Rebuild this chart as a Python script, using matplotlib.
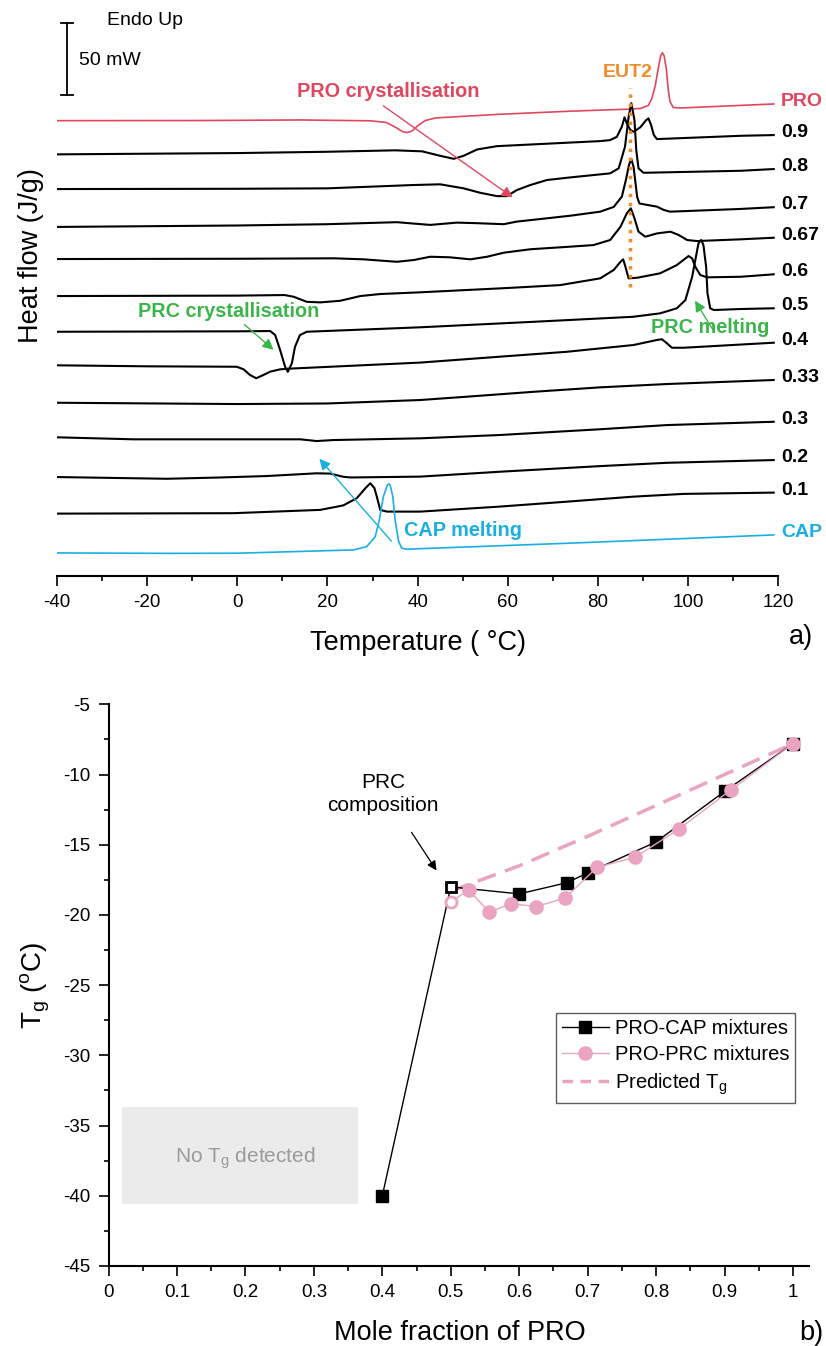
import matplotlib
matplotlib.use("Agg")
import matplotlib.pyplot as plt
from matplotlib.patches import Rectangle
from matplotlib.lines import Line2D
from matplotlib.ticker import MultipleLocator, FuncFormatter

plt.rcParams["font.family"] = ["Liberation Sans", "DejaVu Sans"]
plt.rcParams["mathtext.fontset"] = "custom"
plt.rcParams["mathtext.rm"] = "Liberation Sans"
plt.rcParams["mathtext.it"] = "Liberation Sans:italic"
plt.rcParams["mathtext.bf"] = "Liberation Sans:bold"
plt.rcParams["mathtext.default"] = "regular"
plt.rcParams["axes.unicode_minus"] = False

RED = "#e0475f"
GREEN = "#3bb54a"
CYAN = "#1aafe3"
ORANGE = "#f28c28"
PINK = "#eaa3c1"

# ---------------- (a) DSC heating traces: temperature (degC) / heat flow (mW) ----------------
t_pro = [-40, -8, 14, 29.5, 33, 35, 36.6, 37.7, 38.8, 40, 41.7, 44, 58, 74, 86, 89.5, 91.2, 92,
         92.7, 93.4, 93.9, 94.3, 94.7, 95.2, 95.6, 96, 96.7, 98.3, 111.6, 119]
hf_pro = [0, 0.1, 0.5, -0.1, -1.2, -4.4, -7.5, -8.3, -7.1, -3.6, 0.1, 1.9, 4.4, 6.6, 7.9, 8.5, 10.6,
          15.8, 24.1, 36.6, 44.9, 47.2, 44.9, 35.2, 21.3, 13.0, 9.2, 8.8, 10.6, 11.6]

t_090 = [-40, 0, 20, 35, 41, 45, 48, 50.2, 53.2, 57.6, 73.9, 80.5, 82.7, 84.2, 85.3, 85.9, 86.4,
         87.2, 87.9, 89.4, 90.7, 91.2, 91.8, 92.4, 93.1, 111.7, 119]
hf_090 = [0, 0.9, 1.8, 2.8, 2.1, -1.0, -3.1, -1.0, 3.4, 5.7, 8.2, 9.2, 9.9, 12.2, 19.2, 25.7, 21.5,
          16.9, 15.7, 18.8, 23.8, 25.0, 20.3, 13.4, 10.6, 12.9, 13.4]

t_080 = [-40, 0, 20, 39, 45, 50.2, 53.9, 57.6, 59.8, 62, 65, 68.7, 73.9, 82.7, 84.6, 86, 86.8,
         87.4, 88.1, 88.5, 89, 90.1, 111.7, 119]
hf_080 = [0, 0.2, 0.5, 2.8, 3.3, 0.5, -2.6, -4.9, -4.9, -0.7, 2.8, 6.3, 8.1, 10.9, 14.4, 29.4, 50.0,
          59.7, 47.9, 27.1, 14.4, 11.3, 12.7, 13.9]

t_070 = [-40, 0, 20, 35.4, 42.8, 48.7, 53.2, 59.1, 62, 68.7, 73.9, 80.5, 83.5, 85.3, 86.2, 86.9,
         87.4, 87.9, 88.3, 88.7, 89.2, 90.9, 93.1, 94.6, 96, 111.7, 119]
hf_070 = [0, 1.0, 1.9, 3.3, 1.4, 3.0, 2.6, 1.9, 3.7, 6.0, 7.8, 10.6, 13.9, 21.0, 32.6, 43.1, 47.2,
          41.7, 31.3, 20.8, 16.3, 15.3, 14.1, 11.8, 10.6, 12.5, 13.7]

t_067 = [-40, 0, 21.5, 28, 35.4, 39.1, 42.8, 47.2, 51.7, 55.4, 59.1, 65, 73.9, 79, 82.7, 85, 86.4,
         87.3, 88.1, 89, 90.5, 93.1, 96.1, 97.9, 99.8, 102, 111.7, 119]
hf_067 = [0, 0.2, 0.5, -0.2, -1.9, -0.7, 1.6, 1.2, -0.2, 1.6, 4.4, 6.8, 8.6, 9.7, 13.2, 22.4, 31.7,
          35.2, 28.3, 19.0, 15.5, 17.8, 19.0, 16.7, 13.2, 12.5, 13.7, 14.8]

t_060 = [-40, 0, 10.5, 12.5, 15.4, 18.4, 22.8, 27.3, 31.7, 40.6, 60, 71.6, 80.5, 83.5, 85, 85.6,
         86.1, 86.8, 88.7, 93.8, 97.5, 100.1, 100.9, 101.6, 102.7, 104.2, 111.7, 119]
hf_060 = [0, 0.3, 0.7, -0.5, -4.0, -4.4, -3.3, 0, 1.4, 2.6, 5.6, 7.6, 12.3, 18.1, 23.8, 25.5, 20.3,
          12.3, 12.7, 15.8, 21.5, 27.8, 26.1, 20.3, 14.6, 13.0, 13.4, 15.1]

t_050 = [-40, 0, 7.3, 8.4, 9.5, 10.6, 11.2, 12.1, 12.8, 13.9, 15.4, 40.6, 65.6, 87.8, 93.8, 97.5,
         99.4, 100.9, 101.6, 102.3, 102.9, 103.4, 104, 104.3, 104.9, 105.7, 111.7, 119]
hf_050 = [0, 0.3, 0.5, -2.3, -12.7, -24.3, -27.8, -21.9, -10.4, -2.3, 0, 3.1, 6.9, 10.4, 12.8, 16.3,
          22.0, 38.2, 49.8, 61.4, 63.7, 60.2, 45.1, 26.7, 16.3, 15.1, 15.8, 16.3]

t_040 = [-40, -20, -0.1, 1.4, 2.8, 4.2, 5.8, 7.3, 9.5, 11, 40.6, 58.3, 73.1, 87.9, 93.1, 94.2, 95.3,
         96.4, 99, 119]
hf_040 = [0, -0.7, -1.0, -2.8, -6.7, -9.0, -6.7, -4.4, -2.8, -2.4, 1.9, 6.0, 9.4, 14.1, 17.6, 18.1,
          15.3, 12.2, 12.2, 15.7]

t_033 = [-40, 0, 20, 40.6, 50.9, 65.7, 80.5, 95.3, 119]
hf_033 = [0, -0.9, -0.5, 1.9, 4.2, 7.6, 10.7, 13.0, 15.8]

t_030 = [-40, -23, 14, 17.6, 21.3, 40.6, 58.3, 80.5, 95.3, 119]
hf_030 = [0, -1.4, -1.4, -2.6, -1.9, -0.7, 1.6, 5.6, 8.5, 10.8]

t_020 = [-40, -15.6, -3.8, 6.5, 17.6, 20.6, 23.5, 25.1, 40.6, 58.3, 80.5, 95.3, 119]
hf_020 = [0, -1.2, -0.3, 0.7, 2.6, 2.4, 0.2, -0.3, 0.3, 3.7, 7.6, 9.9, 11.8]

t_010 = [-40, -0.9, 18.4, 23.5, 26.5, 28.4, 29.5, 30.4, 30.9, 31.7, 33.2, 40.6, 58.3, 73.1, 87.9,
         99, 119]
hf_010 = [0, 0.3, 2.6, 5.7, 10.7, 17.6, 21.1, 17.8, 12.3, 2.6, 1.4, 1.4, 4.9, 8.3, 11.8, 13.7, 14.6]

t_cap = [-40, -15, 0, 25.8, 28.7, 30.6, 31.5, 32.4, 33.3, 33.6, 33.9, 34.5, 35, 35.8, 36.5, 37.6,
         43.5, 73.1, 119]
hf_cap = [0, -0.3, -0.2, 2.1, 4.4, 11.3, 22.9, 39.1, 47.2, 47.9, 47.2, 39.1, 22.9, 7.8, 3.3, 2.6,
          3.3, 6.7, 12.5]

trace_labels = ["PRO", "0.9", "0.8", "0.7", "0.67", "0.6", "0.5", "0.4", "0.33", "0.3", "0.2",
                "0.1", "CAP"]
trace_offsets = [316.0, 292.6, 268.5, 242.2, 219.9, 194.2, 169.4, 146.1, 120.1, 96.1, 68.5, 43.1,
                 15.8]
traces = [(t_pro, hf_pro), (t_090, hf_090), (t_080, hf_080), (t_070, hf_070), (t_067, hf_067),
          (t_060, hf_060), (t_050, hf_050), (t_040, hf_040), (t_033, hf_033), (t_030, hf_030),
          (t_020, hf_020), (t_010, hf_010), (t_cap, hf_cap)]
trace_colors = [RED] + ["black"] * 11 + [CYAN]

eut2_temp = 87.2

# ---------------- (b) glass transition temperatures ----------------
x_cap = [0.4, 0.5, 0.6, 0.67, 0.7, 0.8, 0.9, 1.0]
tg_cap = [-40.0, -18.0, -18.5, -17.7, -17.0, -14.8, -11.2, -7.8]

x_prc = [0.5, 0.526, 0.556, 0.588, 0.625, 0.667, 0.714, 0.769, 0.833, 0.909, 1.0]
tg_prc = [-19.1, -18.2, -19.8, -19.2, -19.4, -18.8, -16.6, -15.9, -13.9, -11.1, -7.8]

x_pred = [0.5, 0.6, 0.7, 0.8, 0.9, 1.0]
tg_pred = [-18.3, -16.5, -14.4, -12.2, -10.0, -7.8]

prc_fraction = 0.5

fig = plt.figure(figsize=(8.26, 13.46), dpi=100)

# ================= panel a =================
ax = fig.add_axes([0.0690, 0.5723, 0.8732, 0.4277])
ax.set_xlim(-40, 120)
ax.set_ylim(0, 399.8)
for s in ("left", "top", "right"):
    ax.spines[s].set_visible(False)
ax.spines["bottom"].set_linewidth(1.5)
ax.set_yticks([])
ax.xaxis.set_major_locator(MultipleLocator(20))
ax.xaxis.set_minor_locator(MultipleLocator(10))
ax.tick_params(axis="x", which="major", direction="out", length=7, width=1.2,
               labelsize=13.5, pad=6)
ax.tick_params(axis="x", which="minor", direction="out", length=3.5, width=1.2)

for (t, hf), off, lab, col in zip(traces, trace_offsets, trace_labels, trace_colors):
    y = [off + v for v in hf]
    lw = 1.2 if col != "black" else 1.5
    ax.plot(t, y, color=col, lw=lw, solid_joinstyle="round", zorder=3)
    ax.text(120.6, y[-1] + 1.8, lab, color=col, fontsize=14, fontweight="bold",
            ha="left", va="center", clip_on=False)

# EUT2 marker line
ax.plot([eut2_temp, eut2_temp], [200.5, 338.5], color=ORANGE, lw=2.5,
        ls=(0, (1, 1.6)), zorder=5)
ax.text(86.6, 349.4, "EUT2", color=ORANGE, fontsize=14, fontweight="bold",
        ha="center", va="center")

# scale bar
ax.plot([-37.8, -37.8], [333.6, 383.6], color="black", lw=1.3)
ax.plot([-39.1, -36.5], [333.6, 333.6], color="black", lw=1.3)
ax.plot([-39.1, -36.5], [383.6, 383.6], color="black", lw=1.3)
ax.text(-28.9, 385.9, "Endo Up", fontsize=14, ha="left", va="center")
ax.text(-35.1, 358.1, "50 mW", fontsize=14, ha="left", va="center")

# event annotations
ax.annotate("", xy=(61.6, 261.6), xytext=(31.9, 327.4),
            arrowprops=dict(arrowstyle="-|>", color=RED, lw=1.0, mutation_scale=16))
ax.text(33.4, 336.3, "PRO crystallisation", color=RED, fontsize=14.3, fontweight="bold",
        ha="center", va="center")
ax.annotate("", xy=(8.5, 155.6), xytext=(1.1, 175.7),
            arrowprops=dict(arrowstyle="-|>", color=GREEN, lw=1.0, mutation_scale=16))
ax.text(-1.9, 183.8, "PRC crystallisation", color=GREEN, fontsize=14.3, fontweight="bold",
        ha="center", va="center")
ax.annotate("", xy=(101.2, 192.6), xytext=(105.8, 169.3),
            arrowprops=dict(arrowstyle="-|>", color=GREEN, lw=1.0, mutation_scale=16))
ax.text(104.9, 172.4, "PRC melting", color=GREEN, fontsize=14.3, fontweight="bold",
        ha="center", va="center")
ax.annotate("", xy=(17.8, 82.6), xytext=(34.6, 22.5),
            arrowprops=dict(arrowstyle="-|>", color=CYAN, lw=1.0, mutation_scale=16))
ax.text(50.1, 31.7, "CAP melting", color=CYAN, fontsize=14.3, fontweight="bold",
        ha="center", va="center")

fig.text(0.0375, 0.8098, "Heat flow (J/g)", fontsize=19.5, rotation=90, ha="center", va="center")
fig.text(0.5055, 0.5223, "Temperature ( \u00b0C)", fontsize=19.5, ha="center", va="center")
fig.text(0.9697, 0.5267, "a)", fontsize=19.5, ha="center", va="center")

# ================= panel b =================
bx = fig.add_axes([0.1314, 0.0595, 0.8481, 0.4172])
bx.set_xlim(0, 1.0235)
bx.set_ylim(-45, -5)
for s in ("top", "right"):
    bx.spines[s].set_visible(False)
for s in ("left", "bottom"):
    bx.spines[s].set_linewidth(1.5)
bx.xaxis.set_major_locator(MultipleLocator(0.1))
bx.xaxis.set_minor_locator(MultipleLocator(0.05))
bx.yaxis.set_major_locator(MultipleLocator(5))
bx.yaxis.set_minor_locator(MultipleLocator(2.5))
bx.xaxis.set_major_formatter(FuncFormatter(lambda v, p: f"{round(v, 2):g}"))
bx.tick_params(which="major", direction="out", length=7, width=1.2, labelsize=13.5, pad=6)
bx.tick_params(which="minor", direction="out", length=3.5, width=1.2)

bx.add_patch(Rectangle((0.02, -40.6), 0.345, 6.9, facecolor="#ebebeb", edgecolor="none",
                       zorder=0))
bx.text(0.2, -37.3, "No T$_g$ detected", color="#9a9a9a", fontsize=15, ha="center",
        va="center")

filled_cap = [i for i, x in enumerate(x_cap) if x != prc_fraction]
filled_prc = [i for i, x in enumerate(x_prc) if x != prc_fraction]
i_cap = x_cap.index(prc_fraction)
i_prc = x_prc.index(prc_fraction)

bx.plot(x_pred, tg_pred, color=PINK, lw=2.5, ls=(0, (5.5, 2.8)), zorder=2)
bx.plot(x_cap, tg_cap, color="black", lw=1.0, marker="s", ms=9, mfc="black", mec="black",
        markevery=filled_cap, zorder=3)
bx.plot([x_cap[i_cap]], [tg_cap[i_cap]], ls="none", marker="s", ms=7.5, mfc="white",
        mec="black", mew=2, zorder=4)
bx.plot(x_prc, tg_prc, color=PINK, lw=1.0, marker="o", ms=9.5, mfc=PINK, mec=PINK,
        markevery=filled_prc, zorder=5)
bx.plot([x_prc[i_prc]], [tg_prc[i_prc]], ls="none", marker="o", ms=8, mfc="white",
        mec=PINK, mew=2, zorder=6)

bx.annotate("", xy=(0.4814, -17.0), xytext=(0.4405, -13.95),
            arrowprops=dict(arrowstyle="-|>", color="black", lw=0.9, mutation_scale=14))
bx.text(0.401, -11.4, "PRC\ncomposition", fontsize=15, ha="center", va="center",
        linespacing=1.3)

handles = [
    Line2D([], [], color="black", lw=1.0, marker="s", ms=9, mfc="black", mec="black"),
    Line2D([], [], color=PINK, lw=1.0, marker="o", ms=9.5, mfc=PINK, mec=PINK),
    Line2D([], [], color=PINK, lw=2.5, ls=(0, (3, 2.2))),
]
leg = bx.legend(handles, ["PRO-CAP mixtures", "PRO-PRC mixtures", "Predicted T$_g$"],
                loc="upper left", bbox_to_anchor=(0.639, 0.4503), borderaxespad=0,
                fontsize=14.5, frameon=True, fancybox=False, handlelength=2.3,
                handletextpad=0.3, borderpad=0.3, labelspacing=0.35, numpoints=1)
leg.get_frame().set_edgecolor("#333333")
leg.get_frame().set_linewidth(1.0)

fig.text(0.0424, 0.2682, "T$_g$ ($^o$C)", fontsize=20, rotation=90, ha="center", va="center")
fig.text(0.5563, 0.0100, "Mole fraction of PRO", fontsize=19.5, ha="center", va="center")
fig.text(0.9818, 0.0100, "b)", fontsize=19.5, ha="center", va="center")

fig.savefig("out.png", dpi=100)
